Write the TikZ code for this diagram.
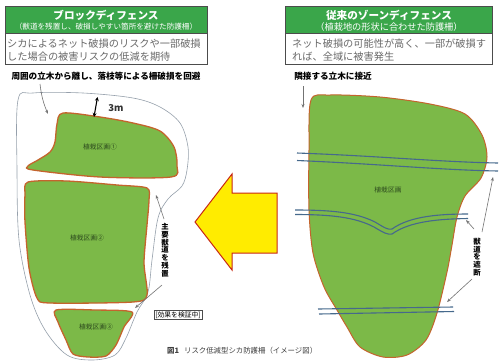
\documentclass[tikz,border=0pt]{standalone}
\usepackage{fontspec}
\setmainfont{Noto Sans CJK JP}
\usetikzlibrary{arrows.meta}
\definecolor{hdgreen}{RGB}{58,166,74}
\definecolor{plotgreen}{RGB}{124,185,72}
\definecolor{plotedge}{RGB}{196,100,45}
\definecolor{fence}{RGB}{70,105,140}
\definecolor{grytxt}{RGB}{105,105,105}
\definecolor{outl}{RGB}{150,160,172}
\definecolor{lbl}{RGB}{45,75,30}
\definecolor{arrowyel}{RGB}{255,236,0}
\definecolor{arrowred}{RGB}{200,40,20}
\begin{document}
\begin{tikzpicture}[x=1pt,y=-1pt,
  hdbox/.style={draw=black!70,line width=0.6pt,fill=hdgreen,anchor=north west,inner sep=0pt,minimum width=202pt,minimum height=27pt},
  wbox/.style={draw=black!70,line width=0.6pt,fill=white,anchor=north west,inner sep=0pt,minimum width=202pt,minimum height=31pt},
  ttl/.style={text=white,font=\fontsize{10.6}{12}\selectfont\bfseries,inner sep=0pt},
  sub/.style={text=white,inner sep=0pt},
  gtx/.style={text=grytxt,font=\fontsize{10.2}{13.5}\selectfont,align=left,inner sep=0pt,anchor=west},
  note/.style={font=\fontsize{8.6}{10}\selectfont\bfseries,inner sep=0pt},
  plot/.style={draw=plotedge,line width=1.3pt,fill=plotgreen},
  plbl/.style={text=lbl,font=\fontsize{6.8}{7}\selectfont,inner sep=0pt},
  vtx/.style={font=\fontsize{7.4}{7.8}\selectfont\bfseries,align=center,inner sep=0pt},
  thin/.style={draw=black!55,line width=0.6pt,-{Stealth[length=4pt,width=3pt]}},
  fen/.style={draw=fence,line width=1.1pt}]
\useasboundingbox (0,0) rectangle (500,360);
\fill[white] (0,0) rectangle (500,360);

% ---------- headers ----------
\node[hdbox] (lhd) at (5,6) {};
\node[wbox] (lwb) at (5,33) {};
\node[ttl] (lt) at (106,15.5) {ブロックディフェンス};
\node[sub,font=\fontsize{7.6}{9}\selectfont] (ls) at (106,26.5) {（獣道を残置し、破損しやすい箇所を避けた防護柵）};
\node[gtx] (lg) at (7,50) {シカによるネット破損のリスクや一部破損\\した場合の被害リスクの低減を期待};
\node[note] (ln) at (106,76) {周囲の立木から離し、落枝等による柵破損を回避};

\node[hdbox,minimum width=207pt] (rhd) at (285,6) {};
\node[wbox,minimum width=207pt] (rwb) at (285,33) {};
\node[ttl] (rt) at (389,15.5) {従来のゾーンディフェンス};
\node[sub,font=\fontsize{9.2}{10}\selectfont] (rs) at (389,27) {（植栽地の形状に合わせた防護柵）};
\node[gtx] (rg) at (292,50) {ネット破損の可能性が高く、一部が破損す\\れば、全域に被害発生};
\node[note] (rn) at (333,76) {隣接する立木に接近};

% ---------- left: block defence ----------
\draw[outl,line width=0.6pt] plot[smooth cycle,tension=0.55] coordinates {
 (18,100) (33,93) (83,93) (133,98) (160,107) (180,123) (188,147) (187,170)
 (182,186) (168,199) (158,218) (152,260) (148,292) (137,312) (126,338)
 (115,355) (92,360) (67,355) (45,330) (30,295) (19,240) (17,170)};

\draw[plot] plot[smooth cycle,tension=0.5] coordinates {
 (63,113) (100,117) (133,123) (160,131) (174,147) (177,166) (171,177)
 (100,177) (33,170) (28,166) (38,160) (50,152) (55,142) (57,124)};
\draw[plot] plot[smooth cycle,tension=0.45] coordinates {
 (28,182) (67,181) (117,185) (147,188) (149,200) (147,225) (144,263)
 (147,295) (133,302) (50,303) (37,298) (29,268) (25,222) (25,195)};
\draw[plot] plot[smooth cycle,tension=0.45] coordinates {
 (56,310) (95,310) (132,312) (124,327) (116,345) (106,356) (88,357)
 (73,354) (66,340) (58,322)};

\node[plbl] (p1) at (100,147) {植栽区画①};
\node[plbl] (p2) at (87,238) {植栽区画②};
\node[plbl] (p3) at (96,327) {植栽区画③};

% 3m
\coordinate (m1) at (97.5,97);
\coordinate (m2) at (94,117);
\draw[black,line width=1.1pt,{Stealth[length=4pt,width=4pt]}-{Stealth[length=4pt,width=4pt]}] (m1) -- (m2);
\node[font=\fontsize{9.5}{10}\selectfont\bfseries,text=black!80,inner sep=0pt] (m3) at (116,108) {3m};

% arrow from note
\coordinate (a1) at (40,84);
\coordinate (a2) at (48,114);
\draw[thin] (a1) to[bend right=8] (a2);

% main trail text + arrows
\node[vtx] (tl) at (165,250) {主\\要\\獣\\道\\を\\残\\置};
\coordinate (b1) at (164,219);
\coordinate (b2) at (156,195);
\draw[thin] (b1) -- (b2);
\coordinate (b3) at (162,285);
\coordinate (b4) at (135,308);
\draw[thin] (b3) -- (b4);

\node[draw=black!70,line width=0.5pt,inner sep=1.2pt,font=\fontsize{6.8}{7}\selectfont] (ev) at (178,315) {[効果を検証中]};

% ---------- big yellow arrow ----------
\draw[draw=arrowred,line width=1pt,fill=arrowyel,line join=miter]
 (195,222) -- (232,174) -- (232,193) -- (277,193) -- (277,253) -- (232,253) -- (232,270) -- cycle;

% ---------- right: zone defence ----------
\draw[plot,line width=1pt] plot[smooth cycle,tension=0.5] coordinates {
 (311,100) (330,95) (380,97) (430,104) (465,114) (482,135) (487,157)
 (481,178) (465,196) (457,217) (452,245) (447,272) (437,313) (426,340)
 (407,355) (383,357) (360,347) (347,327) (337,310) (324,287) (313,253)
 (309,210) (309,150)};
\node[plbl] (pz) at (388,190) {植栽区画};

% fences
\draw[fen] (297,153) .. controls (380,156) and (440,162) .. (498,163);
\draw[fen] (297,160.5) .. controls (380,164) and (440,170) .. (498,171);
\draw[fen] (295,210) .. controls (330,210) and (355,212) .. (375,222)
  .. controls (385,228) and (388,230) .. (392,229)
  .. controls (410,216) and (440,214) .. (468,214);
\draw[fen] (295,214.5) .. controls (330,214.5) and (355,217) .. (374,227)
  .. controls (384,233) and (388,235) .. (392,234)
  .. controls (410,221) and (440,219) .. (468,218.5);
\draw[fen] (318,309) -- (453,307);
\draw[fen] (319,314) -- (454,311.5);

% right annotation
\coordinate (c0) at (303,86);
\coordinate (c00) at (303,108);
\draw[thin] (c0) -- (c00);
\node[vtx] (tr) at (477,257) {獣\\道\\を\\遮\\断};
\coordinate (c1) at (482,232);
\coordinate (c2) at (493,177);
\draw[thin] (c1) -- (c2);
\coordinate (c3) at (474,229);
\coordinate (c4) at (466,220);
\draw[thin] (c3) -- (c4);
\coordinate (c5) at (472,279);
\coordinate (c6) at (447,302);
\draw[thin] (c5) -- (c6);

% caption
\node[anchor=west,font=\fontsize{7.4}{8}\selectfont,text=black!75,inner sep=0pt] (cap) at (167,351) {\textbf{図1}\hspace{5pt}リスク低減型シカ防護柵（イメージ図）};
\end{tikzpicture}
\end{document}
